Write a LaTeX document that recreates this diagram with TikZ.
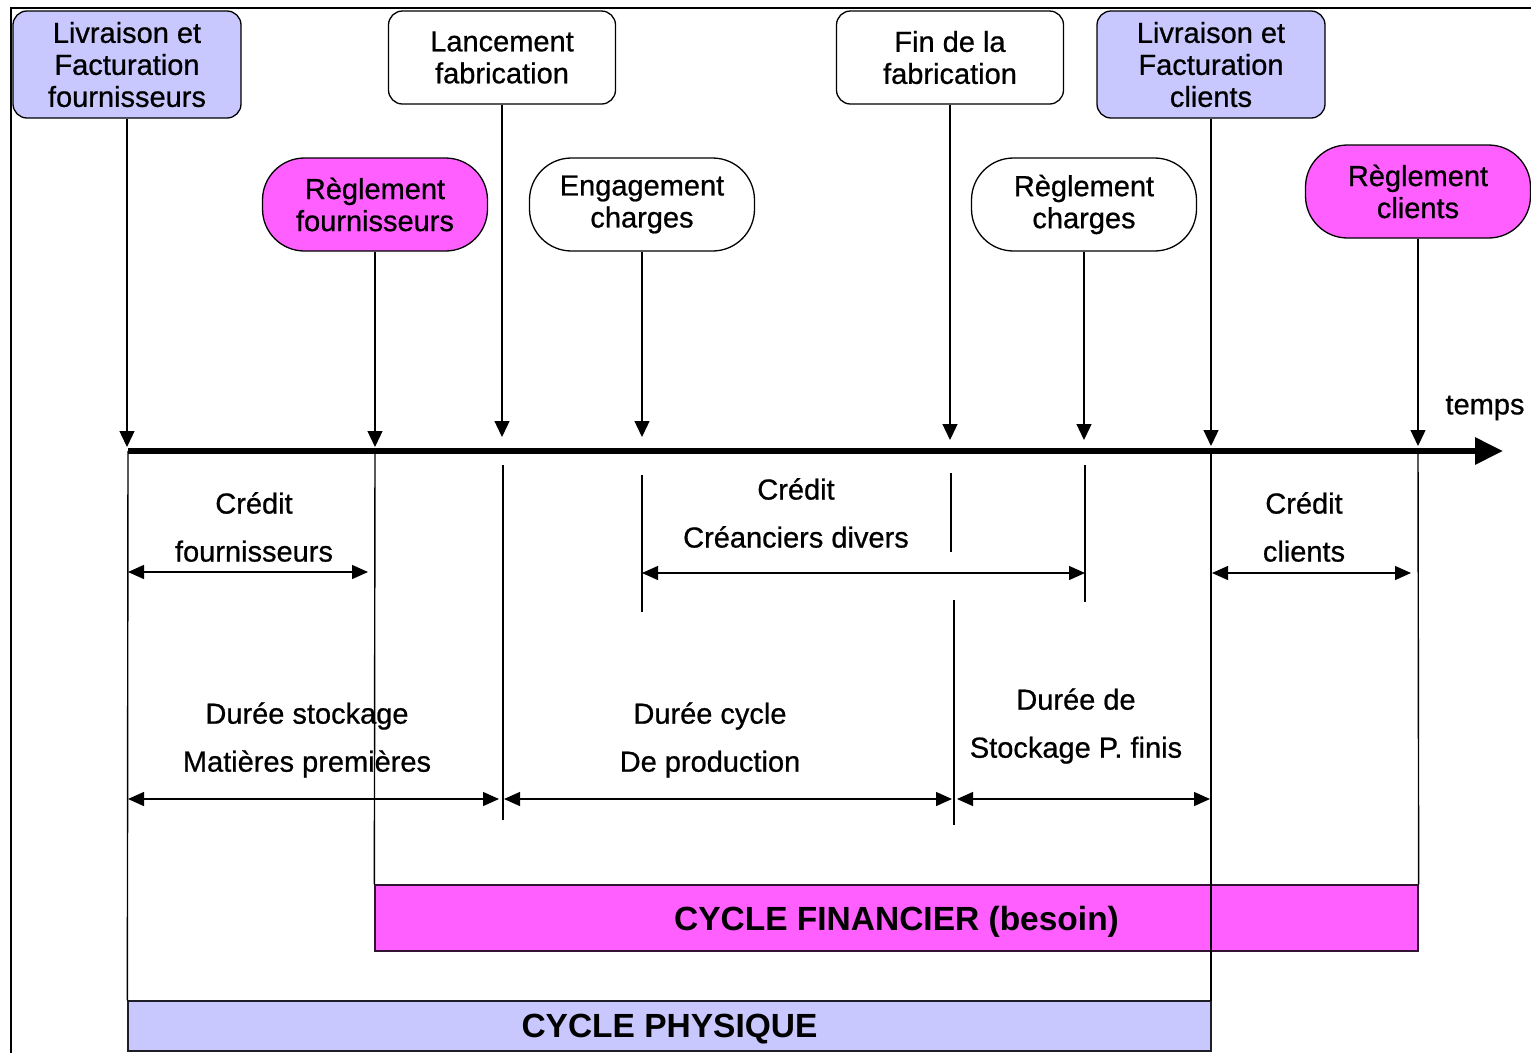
\documentclass[tikz,border=0pt]{standalone}
\usepackage{fontspec}
\setmainfont{Liberation Sans}
\newfontfamily\semifont{Liberation Sans}[FakeBold=0.7]
\usetikzlibrary{arrows.meta}
\definecolor{lav}{RGB}{200,200,255}
\definecolor{mag}{RGB}{255,95,255}
\begin{document}
\begin{tikzpicture}[x=1pt,y=-1pt,
  ev/.style={draw=black,line width=1.3pt,align=center,inner sep=0pt,font=\semifont\fontsize{29}{32}\selectfont},
  boxA/.style={ev,rounded corners=14pt,minimum width=228pt,minimum height=107pt,fill=lav},
  boxB/.style={ev,rounded corners=14pt,minimum width=227pt,minimum height=93pt,fill=white},
  stad/.style={ev,rounded corners=42pt,minimum width=225pt,minimum height=93pt},
  lbl/.style={align=center,inner sep=0pt,font=\semifont\fontsize{29}{48}\selectfont},
  evarrow/.style={line width=1.3pt,-{Triangle[length=16pt,width=15pt]}},
  vline/.style={line width=1.4pt},
  dimarrow/.style={line width=1.3pt,{Triangle[length=16pt,width=14pt]}-{Triangle[length=16pt,width=14pt]}},
  bar/.style={draw=black!80!mag,line width=1.3pt,inner sep=0pt,text depth=0pt,font=\fontsize{33.5}{36}\bfseries},
]
\useasboundingbox (0,0) rectangle (1531,1053);
\fill[white] (0,0) rectangle (1531,1053);
% frame
\coordinate (fa) at (11,1053);
\coordinate (fb) at (11,8);
\coordinate (fc) at (1531,8);
\draw[line width=2pt] (fa) -- (fb) -- (fc);

% bars
\node[bar,fill=mag,minimum width=1043pt,minimum height=66pt] (fin) at (896.5,918) {CYCLE FINANCIER (besoin)};
\node[bar,fill=lav,draw=black!85!lav,minimum width=1083pt,minimum height=50pt] (phys) at (669.5,1026) {CYCLE PHYSIQUE};

% event boxes
\node[boxA] (b1) at (127,64.5) {Livraison et\\Facturation\\fournisseurs};
\node[boxB] (b2) at (502,57.5) {Lancement\\fabrication};
\node[boxB] (b3) at (950,57.5) {Fin de la\\fabrication};
\node[boxA] (b4) at (1211,64.5) {Livraison et\\Facturation\\clients};
\node[stad,fill=mag] (s1) at (375,204.5) {Règlement\\fournisseurs};
\node[stad,fill=white] (s2) at (642,204.5) {Engagement\\charges};
\node[stad,fill=white] (s3) at (1084,204.5) {Règlement\\charges};
\node[stad,fill=mag] (s4) at (1418,191.5) {Règlement\\clients};

% timeline
\coordinate (t0) at (128,451);
\coordinate (tend) at (1503,451);
\draw[line width=6pt,-{Triangle[length=28pt,width=26pt]}] (t0) -- (tend);
\node[lbl] (temps) at (1485,408) {temps};

% arrows to timeline
\coordinate (a1) at (127,447);
\coordinate (a2) at (502,437);
\coordinate (a3) at (950,440);
\coordinate (a4) at (1211,446);
\coordinate (a5) at (375,447);
\coordinate (a6) at (642,437);
\coordinate (a7) at (1084,440);
\coordinate (a8) at (1418,446);
\draw[evarrow] (b1) -- (a1);
\draw[evarrow] (b2) -- (a2);
\draw[evarrow] (b3) -- (a3);
\draw[evarrow] (b4) -- (a4);
\draw[evarrow] (s1) -- (a5);
\draw[evarrow] (s2) -- (a6);
\draw[evarrow] (s3) -- (a7);
\draw[evarrow] (s4) -- (a8);

% vertical lines below timeline
\coordinate (v1a) at (128,451);
\coordinate (v2a) at (375,451);
\coordinate (v3a) at (503,465);  \coordinate (v3b) at (503,820);
\coordinate (v4a) at (642,475);  \coordinate (v4b) at (642,612);
\coordinate (v5a) at (951,473);  \coordinate (v5b) at (951,552);
\coordinate (v5c) at (954,600);  \coordinate (v5d) at (954,825);
\coordinate (v6a) at (1085,465); \coordinate (v6b) at (1085,602);
\coordinate (v7a) at (1211,451); \coordinate (v7b) at (1211,1001);
\coordinate (v8a) at (1418,451);
\draw[vline] (v1a) -- (phys.north west);
\draw[vline] (v2a) -- (fin.north west);
\draw[vline] (v3a) -- (v3b);
\draw[vline] (v4a) -- (v4b);
\draw[vline] (v5a) -- (v5b);
\draw[vline] (v5c) -- (v5d);
\draw[vline] (v6a) -- (v6b);
\draw[vline] (v7a) -- (v7b);
\draw[vline] (v8a) -- (fin.north east);

% dimension arrows
\coordinate (d1a) at (128,572);  \coordinate (d1b) at (368,572);
\coordinate (d2a) at (642,573);  \coordinate (d2b) at (1085,573);
\coordinate (d3a) at (1212,573); \coordinate (d3b) at (1411,573);
\coordinate (d4a) at (128,799);  \coordinate (d4b) at (499,799);
\coordinate (d5a) at (504,799);  \coordinate (d5b) at (952,799);
\coordinate (d6a) at (957,799);  \coordinate (d6b) at (1210,799);
\draw[dimarrow] (d1a) -- (d1b);
\draw[dimarrow] (d2a) -- (d2b);
\draw[dimarrow] (d3a) -- (d3b);
\draw[dimarrow] (d4a) -- (d4b);
\draw[dimarrow] (d5a) -- (d5b);
\draw[dimarrow] (d6a) -- (d6b);

% labels
\node[lbl] (l1) at (254,527) {Crédit\\fournisseurs};
\node[lbl] (l2) at (796,513) {Crédit\\Créanciers divers};
\node[lbl] (l3) at (1304,527) {Crédit\\clients};
\node[lbl] (l4) at (307,740) {Durée stockage\\Matières premières};
\node[lbl] (l5) at (710,740) {Durée cycle\\De production};
\node[lbl] (l6) at (1076,726) {Durée de\\Stockage P. finis};
\end{tikzpicture}
\end{document}
